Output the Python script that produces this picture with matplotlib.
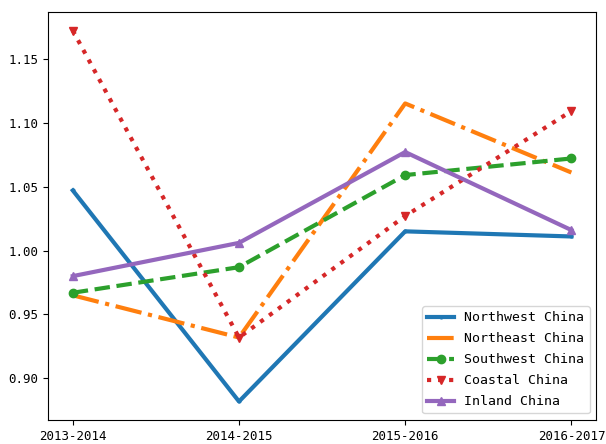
import matplotlib.pyplot as plt

plt.rcParams['font.family'] = ['DejaVu Sans Mono']

periodos = ["2013-2014", "2014-2015", "2015-2016", "2016-2017"]

noroeste = [1.047, 0.882, 1.015, 1.011]
noreste = [0.965, 0.932, 1.115, 1.061]
suroeste = [0.967, 0.987, 1.059, 1.072]
costa = [1.172, 0.932, 1.027, 1.109]
interior = [0.980, 1.006, 1.077, 1.016]

fig = plt.figure(figsize=(6.06, 4.44), dpi=100)
ax = fig.add_axes([0.079, 0.054, 0.905, 0.919])

x = range(len(periodos))
ax.plot(x, noroeste, "-", marker=".", markersize=4, linewidth=3, label="Northwest China")
ax.plot(x, noreste, "-.", linewidth=3, label="Northeast China")
ax.plot(x, suroeste, "--", marker="o", linewidth=3, label="Southwest China")
ax.plot(x, costa, ":", marker="v", linewidth=3, label="Coastal China")
ax.plot(x, interior, "-", marker="^", linewidth=3, label="Inland China")

ax.set_xticks(list(x))
ax.set_xticklabels(periodos)
ax.set_yticks([0.90, 0.95, 1.00, 1.05, 1.10, 1.15])
ax.tick_params(labelsize=9)
ax.legend(loc="lower right", fontsize=9.5, labelspacing=0.6)

plt.savefig("out.png", dpi=100)
